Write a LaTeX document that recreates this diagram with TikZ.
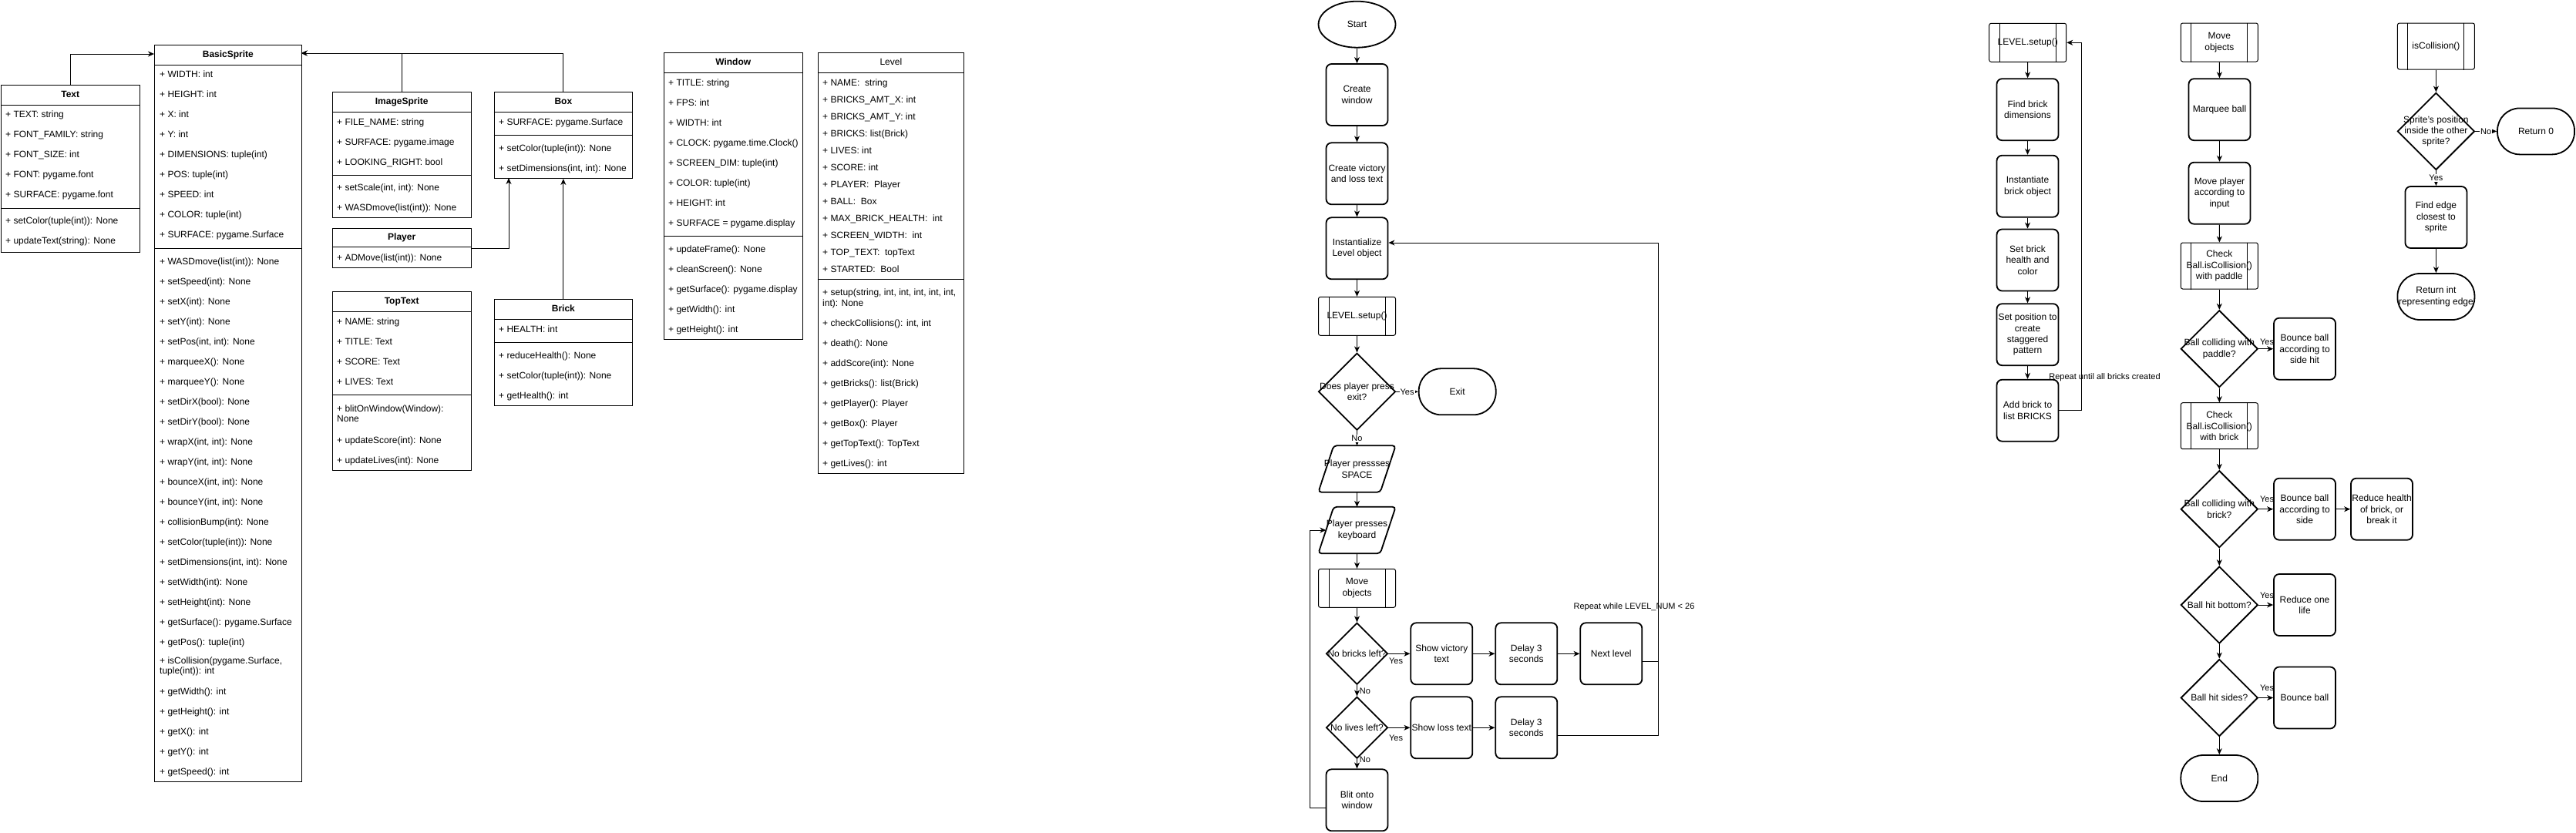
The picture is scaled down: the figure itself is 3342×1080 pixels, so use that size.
\documentclass[tikz,border=0pt]{standalone}
\usepackage{fontspec}
\setmainfont{Liberation Sans}
\usetikzlibrary{shapes.geometric,arrows.meta,calc}
\tikzset{
 umlbox/.style={draw, line width=1pt, inner sep=0pt, anchor=north west},
 hdr/.style={font=\bfseries\fontsize{12}{14}\selectfont, inner sep=0pt, text height=9pt, text depth=2pt},
 hdrn/.style={font=\fontsize{12}{14}\selectfont, inner sep=0pt, text height=9pt, text depth=2pt},
 attr2/.style={anchor=west, inner sep=0pt, font=\fontsize{12}{13.6}\selectfont, align=left},
 attr/.style={attr2, text height=9pt, text depth=2pt},
 arr/.style={draw, line width=1pt, -{Stealth[length=8pt,width=7pt,inset=2.5pt]}},
 ln/.style={draw, line width=1pt},
 rbox/.style={draw, line width=1.8pt, rounded corners=7pt, minimum width=80pt, minimum height=80pt, inner sep=0pt, fill=white},
 sbox/.style={draw, line width=1pt, rounded corners=2.5pt, minimum width=100pt, minimum height=50pt, inner sep=0pt, fill=white},
 dia/.style={draw, diamond, line width=1.8pt, minimum width=100pt, minimum height=100pt, inner sep=0pt, fill=white},
 sdia/.style={dia, minimum width=80pt, minimum height=80pt},
 stad/.style={draw, line width=1.8pt, rounded corners=29pt, minimum width=100pt, minimum height=60pt, inner sep=0pt, fill=white},
 ell/.style={draw, ellipse, line width=1.8pt, minimum width=100pt, minimum height=60pt, inner sep=0pt, fill=white},
 ftext/.style={align=center, inner sep=0pt, font=\fontsize{12}{14.4}\selectfont},
 lbl/.style={inner sep=1pt, font=\fontsize{11}{13}\selectfont, fill=white},
 lbln/.style={inner sep=0pt, font=\fontsize{11}{13}\selectfont, text height=8pt, text depth=2pt},
}
% UML helpers
\newcommand\umlcls[6]{% name, left, top, width, height, header
 \node[umlbox, minimum width=#4, minimum height=#5] (#1) at (#2,#3) {};
 \node[hdr] (#1-h) at ($(#1.north)+(0,13)$) {#6};
 \draw[ln] ($(#1.north west)+(0,26)$) -- ($(#1.north east)+(0,26)$);}
\newcommand\umlsep[2]{\draw[ln] ($(#1.north west)+(0,#2)$) -- ($(#1.north east)+(0,#2)$);}
\newcommand\umlrows[5]{\foreach \t [count=\i] in {#5} {\node[attr] (#1\i) at (#2,{#3+#4*(\i-1)}) {\t};}}
% flowchart helpers
\newcommand\fnode[4]{\node[#1] (#2) at (#3) {}; \node[ftext] (#2-t) at (#2.center) {#4};}
\newcommand\subp[4]{%
 \node[sbox, minimum height=#3] (#1) at (#2) {};
 \draw[line width=1pt] ([xshift=14pt]#1.north west) -- ([xshift=14pt]#1.south west);
 \draw[line width=1pt] ([xshift=-14pt]#1.north east) -- ([xshift=-14pt]#1.south east);
 \node[ftext] (#1-t) at (#1.center) {#4};}
\newcommand\para[3]{%
 \node[minimum width=100pt, minimum height=60pt, inner sep=0pt] (#1) at (#2) {};
 \draw[line width=1.8pt, rounded corners=4pt, fill=white] ($(#1.north west)+(20,0)$) -- (#1.north east) -- ($(#1.south east)+(-20,0)$) -- (#1.south west) -- cycle;
 \node[ftext] (#1-t) at (#1.center) {#3};}
\begin{document}
\begin{tikzpicture}[x=1pt,y=-1pt]
\useasboundingbox (0,0) rectangle (3342,1080);
\fill[white] (0,0) rectangle (3342,1080);

% ---------------- UML ----------------
% Text
\umlcls{text}{0.5}{110}{180.5}{216.5}{Text}
\umlsep{text}{160}
\umlrows{text-a}{7}{149}{26}{{+ TEXT: string},{+ FONT\_FAMILY: string},{+ FONT\_SIZE: int},{+ FONT: pygame.font},{+ SURFACE: pygame.font}}
\umlrows{text-m}{7}{287}{26}{{+ setColor(tuple(int)): None},{+ updateText(string): None}}

% BasicSprite
\umlcls{bs}{200}{58}{190.7}{956}{BasicSprite}
\umlsep{bs}{264}
\umlrows{bs-a}{207}{97}{26}{{+ WIDTH: int},{+ HEIGHT: int},{+ X: int},{+ Y: int},{+ DIMENSIONS: tuple(int)},{+ POS: tuple(int)},{+ SPEED: int},{+ COLOR: tuple(int)},{+ SURFACE: pygame.Surface}}
\umlrows{bs-m}{207}{340}{26}{{+ WASDmove(list(int)): None},{+ setSpeed(int): None},{+ setX(int): None},{+ setY(int): None},{+ setPos(int, int): None},{+ marqueeX(): None},{+ marqueeY(): None},{+ setDirX(bool): None},{+ setDirY(bool): None},{+ wrapX(int, int): None},{+ wrapY(int, int): None},{+ bounceX(int, int): None},{+ bounceY(int, int): None},{+ collisionBump(int): None},{+ setColor(tuple(int)): None},{+ setDimensions(int, int): None},{+ setWidth(int): None},{+ setHeight(int): None},{+ getSurface(): pygame.Surface},{+ getPos(): tuple(int)}}
\node[attr2] (bs-mc) at (207,865) {+ isCollision(pygame.Surface,\\tuple(int)): int};
\umlrows{bs-n}{207}{898}{26}{{+ getWidth(): int},{+ getHeight(): int},{+ getX(): int},{+ getY(): int},{+ getSpeed(): int}}

% ImageSprite
\umlcls{is}{430.7}{119.3}{180}{163}{ImageSprite}
\umlsep{is}{108.4}
\umlrows{is-a}{437}{158.5}{26}{{+ FILE\_NAME: string},{+ SURFACE: pygame.image},{+ LOOKING\_RIGHT: bool}}
\umlrows{is-m}{437}{244.3}{26}{{+ setScale(int, int): None},{+ WASDmove(list(int)): None}}

% Player
\node[umlbox, minimum width=180, minimum height=51.6] (player) at (430.7,295.7) {};
\node[hdr] (player-h) at ($(player.north)+(0,12.5)$) {Player};
\umlsep{player}{25}
\node[attr] (player-m1) at (437,334.5) {+ ADMove(list(int)): None};

% Box
\umlcls{box}{640.7}{119.3}{179.3}{111.7}{Box}
\umlsep{box}{56.4}
\node[attr] (box-a1) at (647,159) {+ SURFACE: pygame.Surface};
\umlrows{box-m}{647}{193.3}{26}{{+ setColor(tuple(int)): None},{+ setDimensions(int, int): None}}

% Brick
\umlcls{brick}{640.7}{388.3}{179.3}{137.7}{Brick}
\umlsep{brick}{56}
\node[attr] (brick-a1) at (647,427.7) {+ HEALTH: int};
\umlrows{brick-m}{647}{461.5}{26}{{+ reduceHealth(): None},{+ setColor(tuple(int)): None},{+ getHealth(): int}}

% TopText
\umlcls{tt}{430.7}{378.3}{180}{231.7}{TopText}
\umlsep{tt}{134}
\umlrows{tt-a}{437}{417.7}{26}{{+ NAME: string},{+ TITLE: Text},{+ SCORE: Text},{+ LIVES: Text}}
\node[attr2] (tt-m1) at (437,536.5) {+ blitOnWindow(Window):\\None};
\umlrows{tt-m}{437}{571.7}{26}{{+ updateScore(int): None},{+ updateLives(int): None}}

% Window
\umlcls{win}{860.7}{68.3}{180}{371.7}{Window}
\umlsep{win}{238.4}
\umlrows{win-a}{867}{107.7}{26}{{+ TITLE: string},{+ FPS: int},{+ WIDTH: int},{+ CLOCK: pygame.time.Clock()},{+ SCREEN\_DIM: tuple(int)},{+ COLOR: tuple(int)},{+ HEIGHT: int},{+ SURFACE = pygame.display}}
\umlrows{win-m}{867}{324.3}{26}{{+ updateFrame(): None},{+ cleanScreen(): None},{+ getSurface(): pygame.display},{+ getWidth(): int},{+ getHeight(): int}}

% Level
\node[umlbox, minimum width=189.3, minimum height=545.7] (lvl) at (1060.7,68.3) {};
\node[hdrn] (lvl-h) at ($(lvl.north)+(0,13)$) {Level};
\umlsep{lvl}{26}
\umlsep{lvl}{294.4}
\umlrows{lvl-a}{1067}{107.7}{22}{{+ NAME:~ string},{+ BRICKS\_AMT\_X: int},{+ BRICKS\_AMT\_Y: int},{+ BRICKS: list(Brick)},{+ LIVES: int},{+ SCORE: int},{+ PLAYER:~ Player},{+ BALL:~ Box},{+ MAX\_BRICK\_HEALTH:~ int},{+ SCREEN\_WIDTH:~ int},{+ TOP\_TEXT:~ topText},{+ STARTED:~ Bool}}
\node[attr2] (lvl-m0) at (1067,387.2) {+ setup(string, int, int, int, int, int,\\int): None};
\umlrows{lvl-m}{1067}{420}{26}{{+ checkCollisions(): int, int},{+ death(): None},{+ addScore(int): None},{+ getBricks(): list(Brick)},{+ getPlayer(): Player},{+ getBox(): Player},{+ getTopText(): TopText},{+ getLives(): int}}

% UML connectors
\coordinate (bsL) at (200,70);
\coordinate (bsR) at (390.7,69);
\coordinate (boxB) at (660,231);
\draw[arr] (text.north) |- (bsL);
\draw[arr] (is.north) |- (bsR);
\draw[arr] (box.north) |- (bsR);
\draw[arr] (player.east) -| (boxB);
\draw[arr] (brick.north) -- (box.south);

% ---------------- Main flowchart ----------------
\fnode{ell}{start}{1760.5,31.7}{Start}
\fnode{rbox}{cw}{1760.5,123}{Create\\window}
\fnode{rbox}{cv}{1760.5,225.3}{Create victory\\and loss text}
\fnode{rbox}{il}{1760.5,322.3}{Instantialize\\Level object}
\subp{ls}{1760.5,410.3}{50}{LEVEL.setup()}
\fnode{dia}{d1}{1760.5,508.3}{Does player press\\exit?}
\fnode{stad}{exit}{1890.7,508.3}{Exit}
\para{sp}{1760.5,608.5}{Player pressses\\SPACE}
\para{kb}{1760.5,688}{Player presses\\keyboard}
\subp{mo}{1760.5,763.3}{50}{Move\\objects}
\fnode{sdia}{d2}{1760.5,848.3}{No bricks left?}
\fnode{rbox}{vt}{1870.3,848.3}{Show victory\\text}
\fnode{rbox}{dl1}{1980.3,848.3}{Delay 3\\seconds}
\fnode{rbox}{nl}{2090.3,848.3}{Next level}
\fnode{sdia}{d3}{1760.5,944.3}{No lives left?}
\fnode{rbox}{lt}{1870.3,944.3}{Show loss text}
\fnode{rbox}{dl2}{1980.3,944.3}{Delay 3\\seconds}
\fnode{rbox}{bw}{1760.5,1038.3}{Blit onto\\window}

\draw[arr] (start) -- (cw);
\draw[arr] (cw) -- (cv);
\draw[arr] (cv) -- (il);
\draw[arr] (il) -- (ls);
\draw[arr] (ls) -- (d1);
\draw[arr] (d1) -- node[lbl] (y1) {Yes} (exit);
\draw[arr] (d1) -- node[lbl] (n1) {No} (sp);
\draw[arr] (sp) -- (kb);
\draw[arr] (kb) -- (mo);
\draw[arr] (mo) -- (d2);
\draw[arr] (d2) -- (vt);
\node[lbln] (y2) at (1811,858.3) {Yes};
\draw[arr] (vt) -- (dl1);
\draw[arr] (dl1) -- (nl);
\draw[ln] ($(nl.east)+(0,10)$) -- ++(20.2,0);
\draw[arr] ($(dl2.east)+(0,10)$) -- ++(130.2,0) |- ($(il.east)+(0,-7.3)$);
\node[lbln] (rep1) at (2120,787.3) {Repeat while LEVEL\_NUM < 26};
\draw[arr] (d2) -- (d3);
\node[lbln] (n2) at (1771,897.3) {No};
\draw[arr] (d3) -- (lt);
\node[lbln] (y3) at (1811,958.3) {Yes};
\draw[arr] (lt) -- (dl2);
\draw[arr] (d3) -- (bw);
\node[lbln] (n3) at (1771,986.7) {No};
\draw[arr] ($(bw.west)+(0,10)$) -- ++(-20,0) |- ($(kb.west)+(10,0)$);

% ---------------- LEVEL.setup() flowchart ----------------
\subp{ls2}{2630.7,55.3}{50}{LEVEL.setup()}
\fnode{rbox}{fb}{2630.5,142.2}{Find brick\\dimensions}
\fnode{rbox}{ib}{2630.5,241.7}{Instantiate\\brick object}
\fnode{rbox}{sb}{2630.5,337.5}{Set brick\\health and\\color}
\fnode{rbox}{spos}{2630.5,434.2}{Set position to\\create\\staggered\\pattern}
\fnode{rbox}{ab}{2630.5,532.7}{Add brick to\\list BRICKS}
\draw[arr] (ls2) -- (fb);
\draw[arr] (fb) -- (ib);
\draw[arr] (ib) -- (sb);
\draw[arr] (sb) -- (spos);
\draw[arr] (spos) -- (ab);
\draw[arr] (ab.east) -- ++(29.5,0) |- (ls2.east);
\node[lbln] (rep2) at (2730.5,489.3) {Repeat until all bricks created};

% ---------------- Move objects flowchart ----------------
\subp{mo2}{2879.3,55}{50}{Move\\objects}
\fnode{rbox}{mb}{2879.5,142.2}{Marquee ball}
\fnode{rbox}{mp}{2879.5,250.7}{Move player\\according to\\input}
\subp{cp}{2879.3,345}{60}{Check\\Ball.isCollision()\\with paddle}
\fnode{dia}{dp}{2879.3,452.7}{Ball colliding with\\paddle?}
\fnode{rbox}{bp}{2990,452.7}{Bounce ball\\according to\\side hit}
\subp{cbk}{2879.3,552.7}{60}{Check\\Ball.isCollision()\\with brick}
\fnode{dia}{db}{2879.3,660.7}{Ball colliding with\\brick?}
\fnode{rbox}{bs2}{2990,660.7}{Bounce ball\\according to\\side}
\fnode{rbox}{rh}{3090,660.7}{Reduce health\\of brick, or\\break it}
\fnode{dia}{dbt}{2879.3,785}{Ball hit bottom?}
\fnode{rbox}{rl}{2990,785}{Reduce one\\life}
\fnode{dia}{dsd}{2879.3,905.5}{Ball hit sides?}
\fnode{rbox}{bb}{2990,905.5}{Bounce ball}
\fnode{stad}{endn}{2879.3,1010}{End}
\draw[arr] (mo2) -- (mb);
\draw[arr] (mb) -- (mp);
\draw[arr] (mp) -- (cp);
\draw[arr] (cp) -- (dp);
\draw[arr] (dp) -- (bp);
\node[lbln] (y4) at (2941,444) {Yes};
\draw[arr] (dp) -- (cbk);
\draw[arr] (cbk) -- (db);
\draw[arr] (db) -- (bs2);
\node[lbln] (y5) at (2941,648) {Yes};
\draw[arr] (bs2) -- (rh);
\draw[arr] (db) -- (dbt);
\draw[arr] (dbt) -- (rl);
\node[lbln] (y6) at (2941,773) {Yes};
\draw[arr] (dbt) -- (dsd);
\draw[arr] (dsd) -- (bb);
\node[lbln] (y7) at (2941,893.5) {Yes};
\draw[arr] (dsd) -- (endn);

% ---------------- isCollision flowchart ----------------
\subp{ic}{3160.4,60}{60}{isCollision()}
\fnode{dia}{dsp}{3160.4,170.4}{Sprite's position\\inside the other\\sprite?}
\fnode{stad}{r0}{3290,170.4}{Return 0}
\fnode{rbox}{fe}{3160.4,282}{Find edge\\closest to\\sprite}
\fnode{stad}{ri}{3160.4,385}{Return int\\representing edge}
\draw[arr] (ic) -- (dsp);
\draw[arr] (dsp) -- node[lbl] (n4) {No} (r0);
\draw[arr] (dsp) -- node[lbl] (y8) {Yes} (fe);
\draw[arr] (fe) -- (ri);
\end{tikzpicture}
\end{document}
